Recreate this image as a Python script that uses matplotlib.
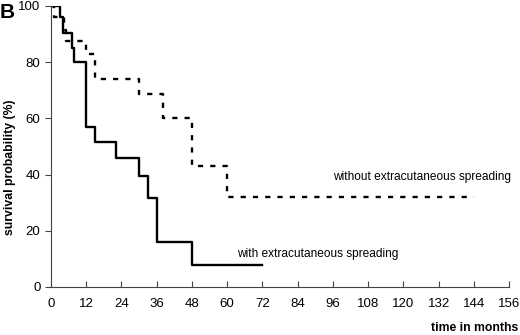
import numpy as np
import matplotlib.pyplot as plt

plt.rcParams['font.family'] = ['Liberation Sans', 'DejaVu Sans']

# Kaplan-Meier steps
with_t = [0, 3, 4, 7, 8, 12, 15, 22, 30, 33, 36, 48, 72]
with_s = [100, 96, 90.5, 85, 80, 57, 51.5, 46, 39.5, 31.5, 16, 8, 8]

without_t = [0, 1, 4.3, 5, 12, 15, 30, 38, 48, 60, 144]
without_s = [100, 96, 91.5, 87.5, 83, 74, 68.5, 60, 43, 32, 32]

xticks = list(range(0, 157, 12))
yticks = [0, 20, 40, 60, 80, 100]

W, H = 520, 335
fig = plt.figure(figsize=(W / 100, H / 100), dpi=100)
ax = fig.add_axes([0.098, 0.1433, 0.881, 0.839])

ax.step(with_t, with_s, where='post', color='black', lw=1.7)
ax.step(without_t, without_s, where='post', color='black', lw=1.7,
        linestyle=(0, (2.2, 3)))

# curve labels, placed in pixel terms of the reference
fig.text(237 / W, 1 - 254 / H, 'with extracutaneous spreading',
         fontsize=8.6, va='center', ha='left')
fig.text(333 / W, 1 - 177 / H, 'without extracutaneous spreading',
         fontsize=8.6, va='center', ha='left')

ax.set_xlim(0, 156)
ax.set_ylim(0, 100)
ax.set_xticks(xticks)
ax.set_yticks(yticks)
ax.spines['top'].set_visible(False)
ax.spines['right'].set_visible(False)
ax.spines['left'].set_color('#444444')
ax.spines['bottom'].set_color('#444444')
ax.tick_params(axis='x', direction='in', length=4, labelsize=9.5, pad=8, color='#444444')
ax.tick_params(axis='y', direction='out', length=4, labelsize=9.5, color='#444444')

fig.text(0.02, 0.5, 'survival probability (%)', rotation=90, fontsize=8.8,
         fontweight='bold', va='center', ha='center')
fig.text(0.997, 1 - 328 / H, 'time in months', fontsize=8.8, fontweight='bold',
         ha='right', va='center')
fig.text(0.0, 0.99, 'B', fontsize=15, fontweight='bold', ha='left', va='top')

fig.savefig('out.png', dpi=100)
